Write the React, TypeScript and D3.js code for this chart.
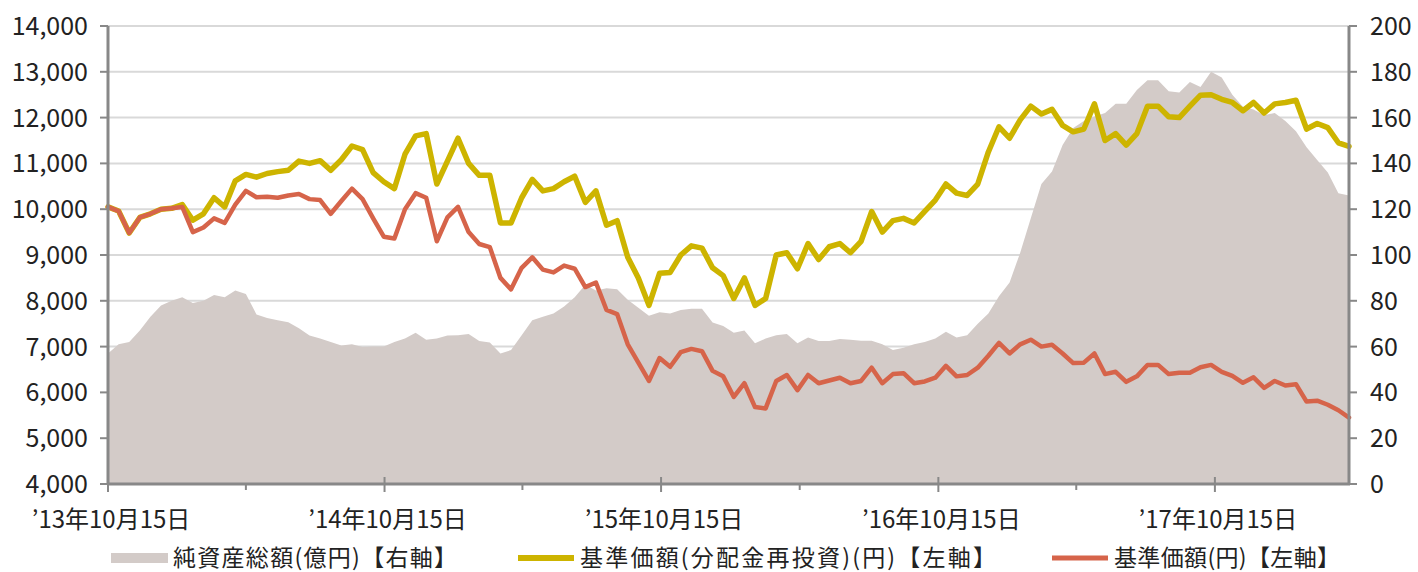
import React from 'react';
import * as d3 from 'd3';

// 2週ごとの読み取り値 ('13/10/15 〜 '18/04/10)
const startDate = new Date(2013, 9, 15);
const stepDays = 14;

// 基準価額(分配金再投資)(円)
const navReinvested = [
  10050, 9960, 9480, 9820, 9900, 10000, 10020, 10100, 9760, 9900,
  10250, 10050, 10620, 10760, 10700, 10780, 10820, 10850, 11050, 11000,
  11060, 10850, 11080, 11380, 11300, 10800, 10600, 10450, 11200, 11600,
  11650, 10550, 11050, 11550, 11000, 10740, 10740, 9700, 9700, 10250,
  10650, 10400, 10450, 10600, 10720, 10150, 10400, 9650, 9750, 8950,
  8500, 7900, 8600, 8620, 9000, 9200, 9150, 8720, 8550, 8050,
  8500, 7900, 8050, 9000, 9050, 8700, 9250, 8900, 9180, 9250,
  9050, 9300, 9950, 9500, 9750, 9800, 9700, 9950, 10200, 10550,
  10350, 10300, 10550, 11250, 11800, 11550, 11950, 12250, 12080, 12180,
  11830, 11690, 11750, 12300, 11500, 11650, 11400, 11650, 12250, 12250,
  12020, 12000, 12250, 12490, 12500, 12400, 12330, 12150, 12330, 12100,
  12300, 12330, 12380, 11750, 11870, 11780, 11450, 11370,
];

// 基準価額(円)
const nav = [
  10050, 9960, 9480, 9820, 9900, 10000, 10020, 10050, 9500, 9600,
  9800, 9700, 10100, 10400, 10260, 10270, 10250, 10300, 10330, 10220,
  10200, 9900, 10180, 10450, 10220, 9800, 9400, 9360, 10000, 10350,
  10250, 9300, 9820, 10050, 9500, 9240, 9170, 8500, 8250, 8720,
  8950, 8680, 8620, 8770, 8700, 8300, 8400, 7800, 7710, 7050,
  6650, 6250, 6750, 6560, 6880, 6950, 6900, 6470, 6350, 5900,
  6200, 5680, 5650, 6250, 6380, 6050, 6380, 6200, 6260, 6320,
  6200, 6250, 6540, 6200, 6400, 6420, 6200, 6240, 6320, 6580,
  6350, 6380, 6540, 6800, 7080, 6850, 7050, 7150, 7000, 7040,
  6850, 6640, 6650, 6850, 6400, 6450, 6230, 6350, 6600, 6600,
  6400, 6430, 6430, 6550, 6600, 6450, 6360, 6210, 6330, 6100,
  6250, 6150, 6180, 5800, 5820, 5730, 5610, 5450,
];

// 純資産総額(億円)
const netAssets = [
  57, 61, 62, 67, 73, 78, 80, 81.5, 79, 80,
  82.5, 81.5, 84.5, 83, 74, 72.5, 71.5, 70.6, 68, 64.8,
  63.5, 62, 60.5, 61, 59.8, 60, 60, 62, 63.5, 66,
  63, 63.5, 64.8, 65, 65.5, 62.5, 61.8, 57, 58.5, 65,
  71.5, 73, 74.5, 77.5, 81.5, 87, 84.5, 85.5, 85, 80.5,
  77, 73.5, 75, 74.5, 76, 76.5, 76.5, 70.5, 69, 66,
  67, 61.5, 63.5, 65, 65.5, 61.5, 64, 62.5, 62.5, 63.3,
  63, 62.6, 62.6, 61, 58.5, 59.5, 61, 62, 63.5, 66.5,
  64, 65, 70, 74.5, 82, 88, 101, 116, 131, 136.5,
  148, 155.5, 158.5, 160.5, 162, 166, 166, 172, 176.3, 176.3,
  171.5, 171, 175.5, 173.4, 180, 177.5, 170, 164.7, 163.5, 161,
  162, 158.5, 154, 147, 141.5, 136, 127, 126,
];

const leftTicks = [4000, 5000, 6000, 7000, 8000, 9000, 10000, 11000, 12000, 13000, 14000];
const rightTicks = [0, 20, 40, 60, 80, 100, 120, 140, 160, 180, 200];
const yearLabels = ['’13年10月15日', '’14年10月15日', '’15年10月15日', '’16年10月15日', '’17年10月15日'];
const yearTickDates = [2013, 2014, 2015, 2016, 2017].map(y => new Date(y, 9, 15));
const halfTickDates = [2014, 2015, 2016, 2017, 2018].map(y => new Date(y, 3, 15));

const legendItems = [
  { label: '純資産総額(億円)【右軸】', kind: 'area', x: 111, w: 284 },
  { label: '基準価額(分配金再投資)(円)【左軸】', kind: 'gold', x: 518, w: 416 },
  { label: '基準価額(円)【左軸】', kind: 'red', x: 1052, w: 226 },
];

const FONT = '"Noto Sans CJK JP", "Noto Sans", sans-serif';
const GOLD = '#cdb400';
const RED = '#d6644a';
const AREA = '#d3cbc8';
const AXIS = '#888888';
const GRID = '#d9d9d9';

const App = () => {
  const width = 1418;
  const height = 572;
  const left = 108;
  const right = 1349;
  const top = 26;
  const bottom = 484;

  const dates = navReinvested.map((_, i) => d3.timeDay.offset(startDate, i * stepDays));

  const x = d3.scaleTime()
    .domain([startDate, dates[dates.length - 1]])
    .range([left, right]);
  const yL = d3.scaleLinear().domain([4000, 14000]).range([bottom, top]);
  const yR = d3.scaleLinear().domain([0, 200]).range([bottom, top]);

  const area = d3.area<number>()
    .x((_, i) => x(dates[i]))
    .y0(bottom)
    .y1(d => yR(d));
  const line = d3.line<number>()
    .x((_, i) => x(dates[i]))
    .y(d => yL(d));

  return (
    <div style={{ position: 'fixed', left: 0, top: 0 }}>
      <svg width={width} height={height} style={{ display: 'block', background: '#fff' }} fontFamily={FONT}>
        {leftTicks.slice(1).map(t => (
          <line key={'g' + t} x1={left} x2={right} y1={yL(t)} y2={yL(t)} stroke={GRID} strokeWidth={2} />
        ))}

        <path d={area(netAssets) || ''} fill={AREA} />
        <path d={line(navReinvested) || ''} fill="none" stroke={GOLD} strokeWidth={5.5} strokeLinejoin="round" strokeLinecap="round" />
        <path d={line(nav) || ''} fill="none" stroke={RED} strokeWidth={4.5} strokeLinejoin="round" strokeLinecap="round" />

        {/* axes */}
        <line x1={left} x2={left} y1={top} y2={bottom} stroke={AXIS} strokeWidth={3} />
        <line x1={right} x2={right} y1={top} y2={bottom} stroke={AXIS} strokeWidth={3} />
        <line x1={left - 1} x2={right + 1} y1={bottom} y2={bottom} stroke={AXIS} strokeWidth={3} />

        {leftTicks.map(t => (
          <g key={'l' + t}>
            <line x1={left - 8} x2={left} y1={yL(t)} y2={yL(t)} stroke={AXIS} strokeWidth={2} />
            <text x={88} y={yL(t)} dy="0.36em" textAnchor="end" fontSize={25} fill="#222">
              {d3.format(',')(t)}
            </text>
          </g>
        ))}
        {rightTicks.map(t => (
          <g key={'r' + t}>
            <line x1={right} x2={right + 8} y1={yR(t)} y2={yR(t)} stroke={AXIS} strokeWidth={2} />
            <text x={1370} y={yR(t)} dy="0.36em" textAnchor="start" fontSize={25} fill="#222">
              {t}
            </text>
          </g>
        ))}

        {yearTickDates.map((d, i) => (
          <g key={'y' + i}>
            <line x1={x(d)} x2={x(d)} y1={bottom - 7} y2={bottom + 8} stroke={AXIS} strokeWidth={2} />
            <text x={x(d) + 3} y={528} textAnchor="middle" fontSize={24} fill="#222">
              {yearLabels[i]}
            </text>
          </g>
        ))}
        {halfTickDates.filter(d => x(d) < right).map((d, i) => (
          <line key={'h' + i} x1={x(d)} x2={x(d)} y1={bottom} y2={bottom + 6} stroke={AXIS} strokeWidth={2} />
        ))}

        {/* legend */}
        {legendItems.map(item => (
          <g key={item.label} transform={`translate(${item.x},0)`}>
            {item.kind === 'area' ? (
              <rect x={0} y={553} width={57} height={10} fill={AREA} />
            ) : (
              <line x1={0} x2={56} y1={558} y2={558} stroke={item.kind === 'gold' ? GOLD : RED} strokeWidth={item.kind === 'gold' ? 6 : 5} />
            )}
            <text x={62} y={566} fontSize={23} fill="#222" textLength={item.w} lengthAdjust="spacing">
              {item.label}
            </text>
          </g>
        ))}
      </svg>
    </div>
  );
};

export default App;
